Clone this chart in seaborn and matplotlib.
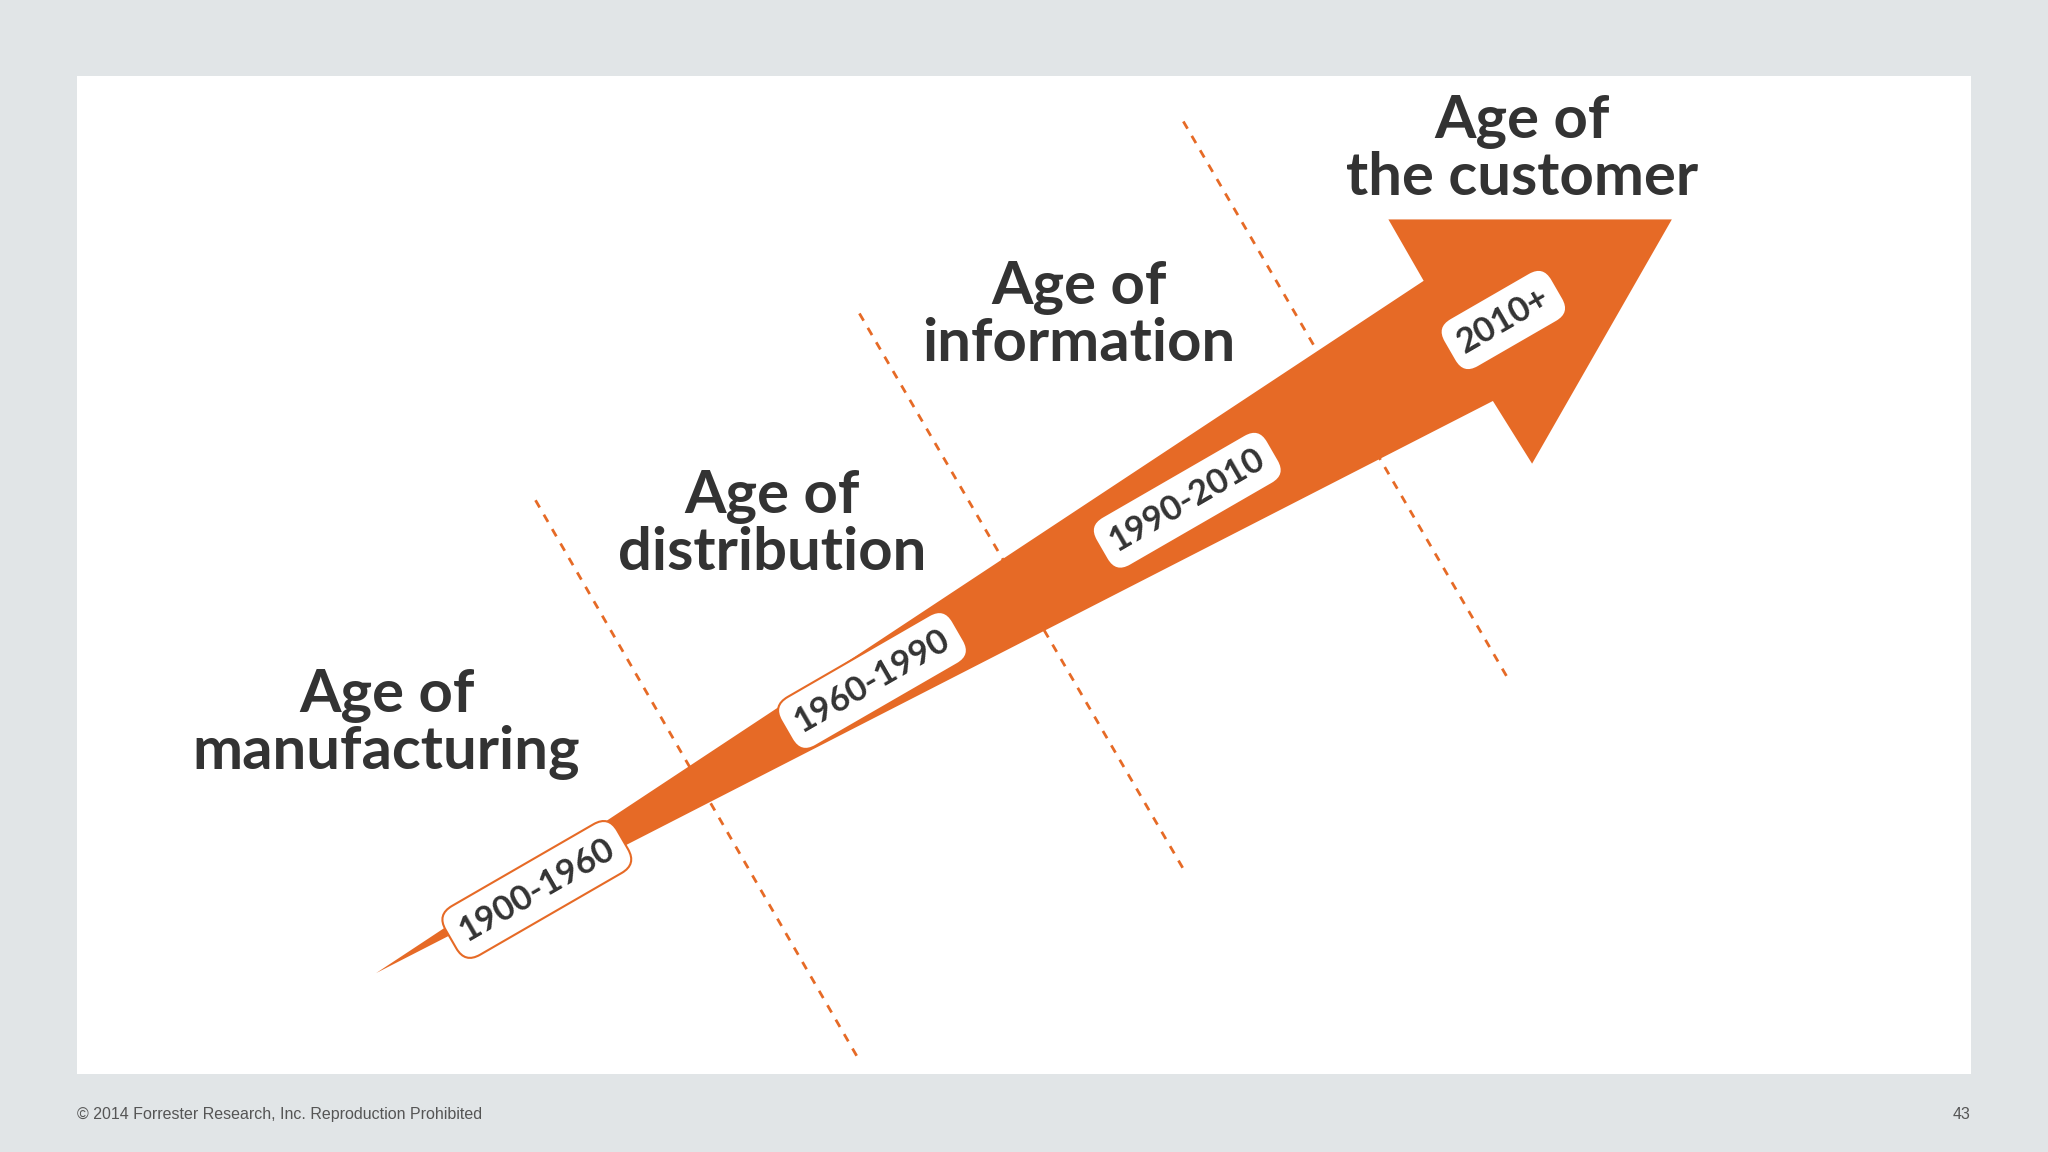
import matplotlib.pyplot as plt
import seaborn as sns
import pandas as pd
from matplotlib.patches import Polygon, Rectangle, FancyBboxPatch
import matplotlib.transforms as mtransforms

# eras and periods
eras = ["Age of\nmanufacturing", "Age of\ndistribution", "Age of\ninformation", "Age of\nthe customer"]
periods = ["1900-1960", "1960-1990", "1990-2010", "2010+"]
footer = "© 2014 Forrester Research, Inc. Reproduction Prohibited"
page = "43"

# layout (reference pixel space 1568 x 882)
era_xy = [(296, 555), (591, 402), (826, 242), (1165, 115)]
period_xy = [(411, 681), (668, 521), (909, 383), (1151, 245)]
dash_x = [(410, 658), (658, 907), (906, 1156)]
dash_y = [(383, 812), (240, 667), (93, 522)]
arrow_pts = [(288, 745), (1090, 215), (1063, 168), (1280, 168), (1173, 355),
             (1143, 307), (288, 745)]

ORANGE = "#e66a26"
DARK = "#333333"

sns.set_theme(style="white")
plt.rcParams['font.family'] = ['Lato', 'DejaVu Sans']

fig = plt.figure(figsize=(20.48, 11.52), dpi=100)
fig.patch.set_facecolor("#e1e5e7")
ax = fig.add_axes([0, 0, 1, 1])
ax.set_xlim(0, 1568)
ax.set_ylim(882, 0)
ax.axis("off")
ax.set_facecolor("#e1e5e7")

ax.add_patch(Rectangle((59, 58), 1450, 764, facecolor="white", edgecolor="none", zorder=0))

# dashed dividers
for i, (xs, ys) in enumerate(zip(dash_x, dash_y)):
    df = pd.DataFrame({"x": xs, "y": ys})
    sns.lineplot(data=df, x="x", y="y", ax=ax, color=ORANGE, lw=2,
                 linestyle=(0, (3, 3)), sort=False, zorder=1)

ax.add_patch(Polygon(arrow_pts, closed=True, facecolor=ORANGE, edgecolor="none", zorder=2))

for (x, y), lab in zip(period_xy, periods):
    ax.text(x, y, lab, rotation=30, ha="center", va="center", fontsize=25,
            fontweight="bold", color=DARK, zorder=4,
            bbox=dict(boxstyle="round,pad=0.35,rounding_size=0.5", fc="white",
                      ec=ORANGE, lw=1.5))

for (x, y), lab in zip(era_xy, eras):
    ax.text(x, y, lab, ha="center", va="center", fontsize=43, fontweight="bold",
            color=DARK, linespacing=1.05, zorder=3)

ax.text(59, 853, footer, ha="left", va="center", fontsize=11.5, color="#555555",
        family=["Liberation Sans", "DejaVu Sans"])
ax.text(1509, 853, page, ha="right", va="center", fontsize=11.5, color="#555555",
        family=["Liberation Sans", "DejaVu Sans"])
ax.set_xlabel("")
ax.set_ylabel("")

fig.savefig("out.png", dpi=100, facecolor=fig.get_facecolor())
